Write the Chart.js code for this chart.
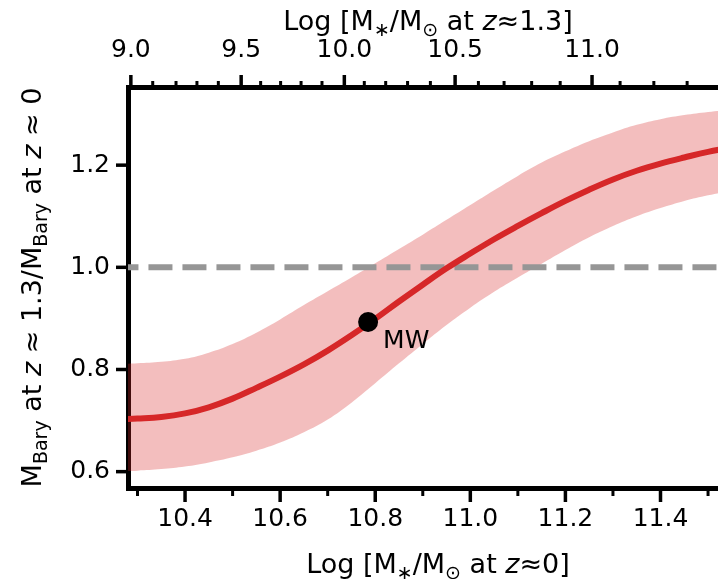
<!DOCTYPE html>
<html>
<head>
<meta charset="utf-8">
<script src="https://cdn.jsdelivr.net/npm/chart.js@4"></script>
<style>
  html, body { margin: 0; padding: 0; background: #fff; overflow: hidden; }
  #wrap { width: 748px; height: 579px; }
</style>
</head>
<body>
<div id="wrap"><canvas id="chart" width="748" height="579"></canvas></div>
<script>
// stellar mass at z~0 (log) and the baryonic mass ratio
const massZ0 = [10.25, 10.30, 10.35, 10.40, 10.45, 10.50, 10.55, 10.60, 10.65, 10.70,
  10.75, 10.80, 10.85, 10.90, 10.95, 11.00, 11.05, 11.10, 11.15, 11.20,
  11.25, 11.30, 11.35, 11.40, 11.45, 11.50, 11.55, 11.60];
const ratio = [0.702, 0.704, 0.707, 0.714, 0.726, 0.743, 0.764, 0.786, 0.810, 0.837,
  0.867, 0.899, 0.933, 0.966, 0.998, 1.027, 1.055, 1.081, 1.106, 1.130,
  1.152, 1.172, 1.189, 1.203, 1.215, 1.226, 1.234, 1.240];
const ratioHigh = [0.810, 0.812, 0.815, 0.821, 0.833, 0.850, 0.872, 0.898, 0.926, 0.953,
  0.980, 1.008, 1.036, 1.064, 1.093, 1.122, 1.151, 1.179, 1.205, 1.227,
  1.247, 1.264, 1.279, 1.290, 1.298, 1.304, 1.309, 1.313];
const ratioLow = [0.600, 0.602, 0.605, 0.610, 0.618, 0.628, 0.641, 0.657, 0.677, 0.702,
  0.735, 0.773, 0.812, 0.850, 0.887, 0.921, 0.952, 0.980, 1.007, 1.034,
  1.059, 1.081, 1.100, 1.116, 1.130, 1.141, 1.150, 1.157];
const refLevel = 1.0;
const mwPoint = { x: 10.785, y: 0.893, label: "MW" };

// axes
const xMin = 10.28, xMax = 11.563;
const yMin = 0.568, yMax = 1.353;
const bottomMajor = [10.4, 10.6, 10.8, 11.0, 11.2, 11.4];
const bottomMinor = [10.3, 10.5, 10.7, 10.9, 11.1, 11.3, 11.5];
const yMajor = [0.6, 0.8, 1.0, 1.2];
// top axis: log M at z~1.3, placed at the matching z~0 mass
const topLabels = ["9.0", "9.5", "10.0", "10.5", "11.0"];
const topMajor = [10.286, 10.518, 10.735, 10.968, 11.256];
const topMinor = [10.332, 10.381, 10.425, 10.470, 10.559, 10.601, 10.644, 10.688,
  10.777, 10.822, 10.868, 10.916, 11.017, 11.071, 11.129, 11.189, 11.315, 11.386, 11.456];

const FONT = '"DejaVu Sans", sans-serif';
const pts = ys => massZ0.map((x, i) => ({ x: x, y: ys[i] }));

function fontFor(s, size) {
  return (s.it ? 'italic ' : '') + (s.sub ? Math.round(size * 0.7) : size) + 'px ' + FONT;
}
function drawRich(ctx, segs, cx, cy, size, angle) {
  ctx.save();
  ctx.translate(cx, cy);
  ctx.rotate(angle);
  let total = 0;
  segs.forEach(s => { ctx.font = fontFor(s, size); total += ctx.measureText(s.t).width; });
  let x = -total / 2;
  ctx.fillStyle = '#000';
  ctx.textBaseline = 'alphabetic';
  segs.forEach(s => {
    ctx.font = fontFor(s, size);
    ctx.fillText(s.t, x, size * 0.36 + (s.sub ? size * 0.22 : 0));
    x += ctx.measureText(s.t).width;
  });
  ctx.restore();
}

const bottomTitle = [{ t: 'Log [M' }, { t: '∗', sub: true }, { t: '/M' }, { t: '⊙', sub: true },
  { t: ' at ' }, { t: 'z', it: true }, { t: '≈0]' }];
const topTitle = [{ t: 'Log [M' }, { t: '∗', sub: true }, { t: '/M' }, { t: '⊙', sub: true },
  { t: ' at ' }, { t: 'z', it: true }, { t: '≈1.3]' }];
const yTitle = [{ t: 'M' }, { t: 'Bary', sub: true }, { t: ' at ' }, { t: 'z', it: true },
  { t: ' ≈ 1.3/M' }, { t: 'Bary', sub: true }, { t: ' at ' }, { t: 'z', it: true }, { t: ' ≈ 0' }];

const extras = {
  id: 'extras',
  afterDraw(chart) {
    const ctx = chart.ctx;
    const a = chart.chartArea;
    const sx = chart.scales.x, sx2 = chart.scales.x2, sy = chart.scales.y;
    ctx.save();
    ctx.strokeStyle = '#000';
    ctx.lineCap = 'butt';
    function seg(x1, y1, x2, y2, w) {
      ctx.lineWidth = w;
      ctx.beginPath(); ctx.moveTo(x1, y1); ctx.lineTo(x2, y2); ctx.stroke();
    }
    bottomMajor.forEach(v => { const p = sx.getPixelForValue(v); seg(p, a.bottom, p, a.bottom + 14, 3.5); });
    bottomMinor.forEach(v => { const p = sx.getPixelForValue(v); seg(p, a.bottom, p, a.bottom + 8, 3); });
    topMajor.forEach(v => { const p = sx2.getPixelForValue(v); seg(p, a.top, p, a.top - 12, 3.5); });
    topMinor.forEach(v => { const p = sx2.getPixelForValue(v); seg(p, a.top, p, a.top - 6, 3); });
    yMajor.forEach(v => { const p = sy.getPixelForValue(v); seg(a.left, p, a.left - 12, p, 3.5); });

    // MW label
    const mx = sx.getPixelForValue(mwPoint.x), my = sy.getPixelForValue(mwPoint.y);
    ctx.fillStyle = '#000';
    ctx.font = '25px ' + FONT;
    ctx.textBaseline = 'middle';
    ctx.textAlign = 'left';
    ctx.fillText(mwPoint.label, mx + 15, my + 20);

    const cx = (a.left + a.right) / 2;
    drawRich(ctx, bottomTitle, cx + 5, 563, 27, 0);
    drawRich(ctx, topTitle, cx - 5, 20, 27, 0);
    drawRich(ctx, yTitle, 31, (a.top + a.bottom) / 2, 27, -Math.PI / 2);
    ctx.restore();
  }
};

const noGrid = { color: 'rgba(0,0,0,0)', drawTicks: false, drawOnChartArea: false };
const spine = { display: true, color: '#000', width: 5 };
const tickFont = { family: FONT, size: 25 };

new Chart(document.getElementById('chart'), {
  type: 'line',
  data: {
    datasets: [
      { data: [{ x: mwPoint.x, y: mwPoint.y }], showLine: false, pointRadius: 10,
        pointBackgroundColor: '#000', pointBorderWidth: 0, order: 0 },
      { data: pts(ratio), borderColor: '#d62728', borderWidth: 6, pointRadius: 0,
        tension: 0.4, fill: false, order: 1, clip: 0 },
      { data: [{ x: xMin - 0.1, y: refLevel }, { x: xMax + 0.1, y: refLevel }],
        borderColor: 'rgb(150,150,150)', borderWidth: 6, borderDash: [24, 10],
        pointRadius: 0, fill: false, order: 2, clip: 0 },
      { data: pts(ratioHigh), borderWidth: 0, borderColor: 'rgba(0,0,0,0)', pointRadius: 0,
        tension: 0.4, fill: '+1',
        backgroundColor: 'rgba(214,39,40,0.3)', order: 3, clip: 0 },
      { data: pts(ratioLow), borderWidth: 0, borderColor: 'rgba(0,0,0,0)', pointRadius: 0,
        tension: 0.4, fill: false, order: 4, clip: 0 }
    ]
  },
  options: {
    responsive: false,
    animation: false,
    devicePixelRatio: 1,
    layout: { padding: 0 },
    plugins: { legend: { display: false }, tooltip: { enabled: false } },
    scales: {
      x: {
        type: 'linear', position: 'bottom', min: xMin, max: xMax,
        grid: noGrid, border: spine,
        afterBuildTicks: s => { s.ticks = bottomMajor.map(v => ({ value: v })); },
        afterFit: s => { s.height = 91; },
        ticks: { font: tickFont, color: '#000', padding: 16, autoSkip: false, maxRotation: 0,
          callback: v => v.toFixed(1) }
      },
      x2: {
        type: 'linear', position: 'top', min: xMin, max: xMax,
        grid: noGrid, border: spine,
        afterBuildTicks: s => { s.ticks = topMajor.map(v => ({ value: v })); },
        afterFit: s => { s.height = 87; },
        ticks: { font: tickFont, color: '#000', padding: 22, autoSkip: false, maxRotation: 0,
          callback: (v, i) => topLabels[i] }
      },
      y: {
        type: 'linear', position: 'left', min: yMin, max: yMax,
        grid: noGrid, border: spine,
        afterBuildTicks: s => { s.ticks = yMajor.map(v => ({ value: v })); },
        afterFit: s => { s.width = 128; },
        ticks: { font: tickFont, color: '#000', padding: 18, callback: v => v.toFixed(1) }
      }
    }
  },
  plugins: [extras]
});
</script>
</body>
</html>
